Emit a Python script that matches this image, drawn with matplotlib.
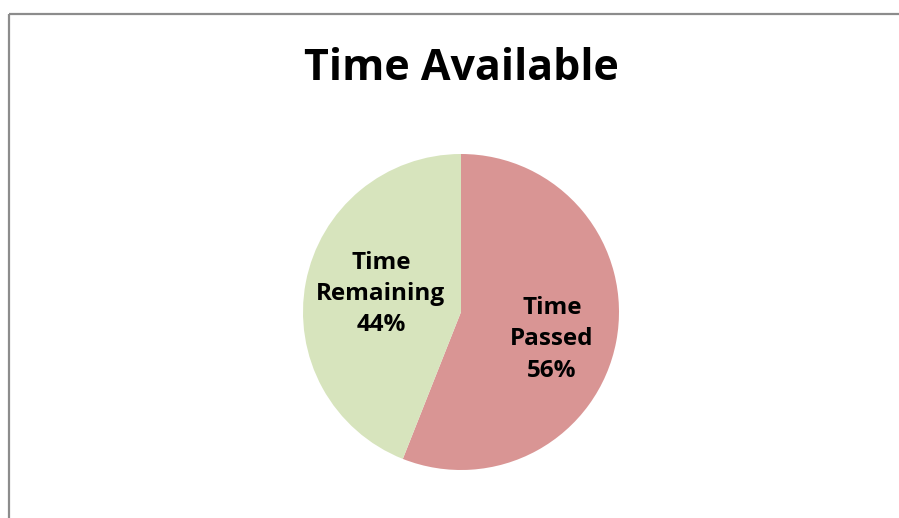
import matplotlib
matplotlib.use('Agg')
import matplotlib.pyplot as plt
import numpy as np
from matplotlib.lines import Line2D

# datos del gráfico
etiquetas = ['Time\nPassed', 'Time\nRemaining']
valores = [56, 44]
colores = ['#D99594', '#D7E4BD']
# distancia radial de cada etiqueta (fracción del radio)
dist_etiquetas = [0.60, 0.52]

plt.rcParams['font.family'] = ['Open Sans', 'DejaVu Sans']

fig = plt.figure(figsize=(8.99, 5.18), dpi=100)
fig.patch.set_facecolor('white')

# marco gris (solo visible arriba y a la izquierda)
fig.add_artist(Line2D([8.5/899, 8.5/899], [0, 1 - 13.5/518], color='#8C8C8C', lw=1.6,
                      transform=fig.transFigure, solid_capstyle='butt'))
fig.add_artist(Line2D([8.5/899, 1], [1 - 13.5/518, 1 - 13.5/518], color='#8C8C8C', lw=1.6,
                      transform=fig.transFigure, solid_capstyle='butt'))

fig.text(461/899, 1 - 68/518, 'Time Available', ha='center', va='center',
         fontsize=31, fontweight='bold')

ax = fig.add_axes([(461-158)/899, (518-470)/518, 316/899, 316/518])
wedges, _ = ax.pie(valores, colors=colores, startangle=90, counterclock=False,
                   radius=1, wedgeprops=dict(linewidth=0))
ax.set_xlim(-1, 1)
ax.set_ylim(-1, 1)
ax.set_aspect('equal')
ax.axis('off')

# ajuste manual de ángulo para parecerse a la posición de Excel
ajuste_ang = [-6, -2]
for w, et, v, d, a in zip(wedges, etiquetas, valores, dist_etiquetas, ajuste_ang):
    ang = np.deg2rad((w.theta1 + w.theta2) / 2 + a)
    x, y = d * np.cos(ang), d * np.sin(ang)
    ax.text(x, y, f'{et}\n{v}%', ha='center', va='center', fontsize=17.5,
            fontweight='bold', linespacing=1.4)

fig.savefig('out.png', dpi=100)
